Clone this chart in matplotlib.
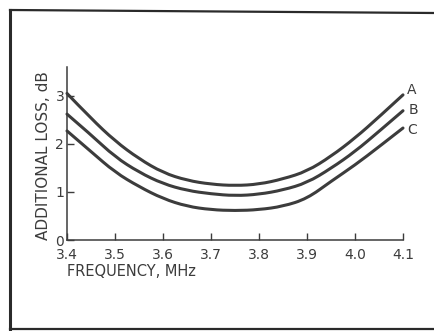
import matplotlib
matplotlib.use("Agg")
import matplotlib.pyplot as plt
from matplotlib.lines import Line2D
from matplotlib.path import Path
from matplotlib.patches import PathPatch

freq = [3.40, 3.45, 3.50, 3.55, 3.60, 3.65, 3.70, 3.75, 3.80, 3.85, 3.90, 3.95, 4.00, 4.05, 4.10]
loss_a = [3.05, 2.53, 2.06, 1.69, 1.40, 1.24, 1.16, 1.13, 1.16, 1.27, 1.43, 1.74, 2.12, 2.56, 3.02]
loss_b = [2.62, 2.19, 1.73, 1.41, 1.17, 1.03, 0.96, 0.92, 0.95, 1.04, 1.19, 1.49, 1.84, 2.26, 2.69]
loss_c = [2.27, 1.84, 1.41, 1.11, 0.86, 0.70, 0.63, 0.61, 0.63, 0.70, 0.86, 1.22, 1.56, 1.94, 2.33]
curve_labels = ["A", "B", "C"]
x_ticks = [3.4, 3.5, 3.6, 3.7, 3.8, 3.9, 4.0, 4.1]
x_tick_labels = ["3.4", "3.5", "3.6", "3.7", "3.8", "3.9", "4.0", "4.1"]
y_ticks = [0, 1, 2, 3]
y_tick_labels = ["0", "1", "2", "3"]

plt.rcParams['font.family'] = ['DejaVu Sans']
ink = "#3c3c3c"
label_offsets_pt = [(3, 3.6), (4, 0.7), (3, -1.4)]


def smooth_path(xs, ys):
    # quadratic Bezier through midpoints, using the data points as control points
    verts = [(xs[0], ys[0])]
    codes = [Path.MOVETO]
    for i in range(1, len(xs) - 1):
        mx = (xs[i] + xs[i + 1]) / 2
        my = (ys[i] + ys[i + 1]) / 2
        if i == len(xs) - 2:
            mx, my = xs[-1], ys[-1]
        verts += [(xs[i], ys[i]), (mx, my)]
        codes += [Path.CURVE3, Path.CURVE3]
    return Path(verts, codes)


fig = plt.figure(figsize=(4.35, 3.31), dpi=100)
fig.patch.set_facecolor("white")

# outer frame of the figure panel
fig.add_artist(Line2D([10/435, 10/435], [1 - 10/331, 1 - 330/331], transform=fig.transFigure,
                      color="#2a2a2a", lw=2.2))
fig.add_artist(Line2D([10/435, 1.0], [1 - 10/331, 1 - 13/331], transform=fig.transFigure,
                      color="#2a2a2a", lw=1.6))
fig.add_artist(Line2D([10/435, 1.0], [1 - 329/331, 1 - 329/331], transform=fig.transFigure,
                      color="#2a2a2a", lw=1.6))

ax = fig.add_axes([67/435, 1 - 240/331, (403 - 67)/435, (240 - 67)/331])
for series in (loss_a, loss_b, loss_c):
    patch = PathPatch(smooth_path(freq, series), facecolor="none", edgecolor=ink, lw=2.2,
                      capstyle="round", joinstyle="round", clip_on=False)
    ax.add_patch(patch)

for series, lab, off in zip((loss_a, loss_b, loss_c), curve_labels, label_offsets_pt):
    ax.annotate(lab, xy=(freq[-1], series[-1]), xytext=off, textcoords="offset points",
                fontsize=10, color=ink, ha="left", va="center")

ax.set_xlim(3.4, 4.1)
ax.set_ylim(0, 3.6)
ax.set_xticks(x_ticks)
ax.set_xticklabels(x_tick_labels)
ax.set_yticks(y_ticks)
ax.set_yticklabels(y_tick_labels)
ax.tick_params(axis="x", direction="in", length=5, width=1, colors=ink, labelsize=10, pad=6)
ax.tick_params(axis="y", direction="in", length=5, width=1, colors=ink, labelsize=10, pad=2)
for s in ("top", "right"):
    ax.spines[s].set_visible(False)
for s in ("left", "bottom"):
    ax.spines[s].set_color(ink)
    ax.spines[s].set_linewidth(1.1)
ax.set_facecolor("none")

ax.set_xlabel("FREQUENCY, MHz", fontsize=10.5, color=ink, loc="left", labelpad=1)
ax.set_ylabel("ADDITIONAL LOSS, dB", fontsize=11, color=ink, loc="bottom", labelpad=3)

fig.savefig("out.png", dpi=100)
